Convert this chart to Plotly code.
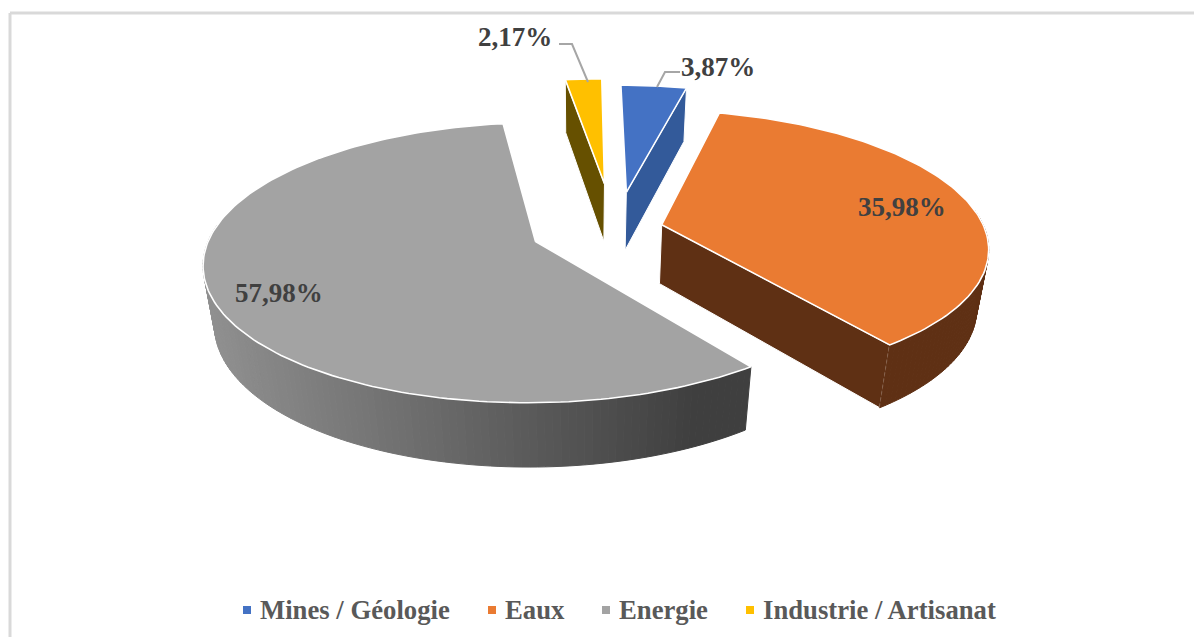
import numpy as np
import plotly.graph_objects as go

# ============================================================
# Data
# ============================================================
categories = ["Mines / Géologie", "Eaux", "Energie", "Industrie / Artisanat"]
shares = [3.87, 35.98, 57.98, 2.17]
top_colors = ["#4472c4", "#ea7b32", "#a3a3a3", "#ffc000"]
wall_colors = ["#335a9a", "#5f3014", "#909090", "#665000"]
wall_colors_end = ["#335a9a", "#5f3014", "#3f3f3f", "#665000"]

# ============================================================
# Pseudo 3D projection (screen pixels, the axes run 1:1)
# ============================================================
W, H = 1202, 637
page_margin = 8  # default body margin of the written page
cx, cy = 583, 232
scale_x, scale_y = 324, 134
tilt = 0.15
depth = 61
floor_shift = 0.03

# how far each slice is pulled out of the disc
pull_u = [0.14, 0.245, -0.145, 0.07]
pull_v = [-0.31, -0.055, 0.07, -0.38]

# which cut face of a slice the viewer sees: 0 = start edge, -1 = end edge
visible_cut = [-1, -1, None, 0]

draw_order = [3, 0, 1, 2]


def project(u, v, floor=False):
    w = 1 - tilt * v
    if floor:
        w = w + floor_shift
        return cx + scale_x * u / w, cy + (scale_y * v + depth) / w
    return cx + scale_x * u / w, cy + scale_y * v / w


def hex_mix(c1, c2, t):
    a = [int(c1[i:i+2], 16) for i in (1, 3, 5)]
    b = [int(c2[i:i+2], 16) for i in (1, 3, 5)]
    return "rgb(%d,%d,%d)" % tuple(round(p + (q - p) * t) for p, q in zip(a, b))


def polygon(x, y, fill, line="white", width=1.2):
    return go.Scatter(x=list(x) + [x[0]], y=list(y) + [y[0]], mode="lines",
                      fill="toself", fillcolor=fill,
                      line=dict(color=line, width=width),
                      hoverinfo="skip", showlegend=False)


fig = go.Figure()

ends = np.cumsum(shares) / np.sum(shares) * 2 * np.pi
starts = np.concatenate([[0], ends[:-1]])

for i in draw_order:
    t = np.linspace(starts[i], ends[i], max(8, int(shares[i] * 3)))
    u = pull_u[i] + np.sin(t)
    v = pull_v[i] - np.cos(t)
    ax, ay = project(pull_u[i], pull_v[i])
    bx, by = project(pull_u[i], pull_v[i], floor=True)
    tx, ty = project(u, v)
    fx, fy = project(u, v, floor=True)

    # cut face
    k = visible_cut[i]
    if k is not None:
        fig.add_trace(polygon([ax, tx[k], fx[k], bx], [ay, ty[k], fy[k], by],
                              wall_colors[i], width=1))

    # outer wall, only the part facing the viewer, split up for the shading
    for k in range(len(t) - 1):
        if -np.cos(t[k]) < -0.1 and -np.cos(t[k+1]) < -0.1:
            continue
        frac = min(max((tx[k] - 205) / (700 - 205), 0), 1)
        col = hex_mix(wall_colors[i], wall_colors_end[i], frac)
        fig.add_trace(polygon([tx[k], tx[k+1], fx[k+1], fx[k]],
                              [ty[k], ty[k+1], fy[k+1], fy[k]], col, line=col, width=1))

    # top face
    fig.add_trace(polygon([ax] + list(tx), [ay] + list(ty), top_colors[i], width=1.6))

# ============================================================
# Leader lines
# ============================================================
leader_x = [[559, 572, 588], [680, 665, 657]]
leader_y = [[44, 44, 82], [72, 72, 87]]
for lx, ly in zip(leader_x, leader_y):
    fig.add_trace(go.Scatter(x=lx, y=ly, mode="lines", hoverinfo="skip", showlegend=False,
                             line=dict(color="#a6a6a6", width=2)))

# ============================================================
# Data labels
# ============================================================
label_x = [718, 902, 279, 515]
label_y = [67, 207, 293, 37]
for i in range(len(shares)):
    fig.add_annotation(x=label_x[i], y=label_y[i], text="<b>%s%%</b>" % f"{shares[i]:.2f}".replace(".", ","),
                       showarrow=False, xanchor="center", yanchor="middle",
                       font=dict(family="Liberation Serif", size=27, color="#404040"))

# ============================================================
# Legend row
# ============================================================
legend_x = [247, 492, 606, 750]
legend_y = 610
fig.add_trace(go.Scatter(x=legend_x, y=[legend_y] * 4, mode="markers", hoverinfo="skip", showlegend=False,
                         marker=dict(symbol="square", size=8, color=top_colors)))
for x, name in zip(legend_x, categories):
    fig.add_annotation(x=x + 11, y=legend_y, text="<b>%s</b>" % name, showarrow=False,
                       xanchor="left", yanchor="middle",
                       font=dict(family="Liberation Serif", size=26.7, color="#595959"))

# chart frame
frame = dict(color="#d9d9d9", width=3)
fig.add_shape(type="line", x0=10, x1=W + page_margin, y0=13, y1=13, line=frame)
fig.add_shape(type="line", x0=10, x1=10, y0=13, y1=H + page_margin, line=frame)

fig.update_layout(width=W, height=H, margin=dict(l=0, r=0, t=0, b=0),
                  paper_bgcolor="white", plot_bgcolor="white", showlegend=False,
                  xaxis=dict(range=[page_margin, W + page_margin], visible=False, fixedrange=True),
                  yaxis=dict(range=[H + page_margin, page_margin], visible=False, fixedrange=True))

fig.write_html("out.html")
